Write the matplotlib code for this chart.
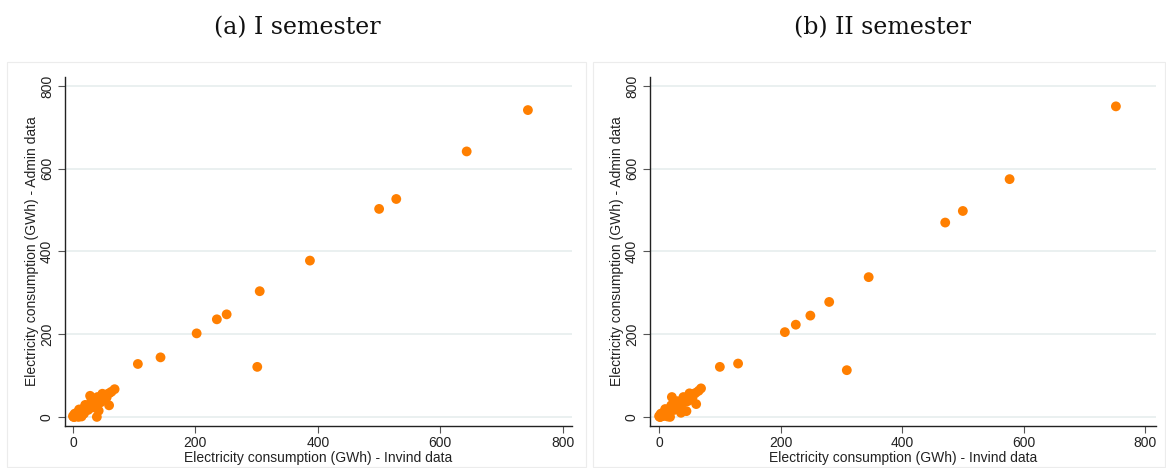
import matplotlib.pyplot as plt
from matplotlib.patches import Rectangle

# (a) I semester: Invind data (x) vs Admin data (y), GWh
sem1_invind = [743, 643, 500, 528, 387, 305, 251, 235, 202, 301, 143, 106, 68,
               28, 59, 42, 39,
               0, 1, 2, 3, 4, 5, 6, 8, 10, 12, 13, 15, 17, 19, 21, 23, 25, 27,
               29, 31, 33, 35, 37, 39, 41, 43, 45, 47, 49, 51, 53, 56, 60, 63,
               3, 7, 11, 16, 2, 14, 20, 9,
               20, 25, 33, 40, 45, 50, 10, 30, 55, 48, 36, 18]
sem1_admin = [742, 642, 503, 527, 378, 304, 248, 236, 202, 121, 144, 128, 67,
              51, 28, 15, 0,
              2, 0, 5, 1, 3, 6, 2, 4, 7, 9, 11, 12, 15, 18, 20, 22, 24, 27,
              28, 30, 32, 34, 36, 38, 40, 42, 44, 46, 48, 50, 52, 55, 58, 61,
              8, 10, 3, 19, 0, 1, 25, 0,
              29, 17, 23, 48, 35, 41, 18, 39, 47, 56, 27, 8]

# (b) II semester
sem2_invind = [752, 577, 471, 500, 345, 280, 249, 225, 207, 309, 130, 100, 69,
               21, 61, 45, 36,
               0, 1, 2, 3, 4, 5, 6, 8, 10, 12, 13, 15, 17, 19, 21, 23, 25, 27,
               29, 31, 33, 35, 37, 39, 41, 43, 45, 47, 49, 51, 53, 56, 60, 65,
               3, 7, 11, 16, 2, 14, 18, 40,
               20, 25, 33, 42, 47, 52, 10, 30, 55, 50, 36, 17]
sem2_admin = [751, 575, 470, 498, 338, 278, 245, 223, 205, 113, 129, 121, 69,
              48, 31, 14, 10,
              2, 0, 5, 1, 3, 6, 2, 4, 7, 9, 11, 12, 15, 18, 20, 22, 24, 27,
              28, 30, 32, 34, 36, 38, 40, 42, 44, 46, 48, 50, 52, 55, 58, 63,
              8, 10, 3, 19, 0, 1, 0, 48,
              28, 17, 24, 36, 38, 42, 19, 38, 47, 57, 27, 7]

titles = ["(a) I semester", "(b) II semester"]
ticks = [0, 200, 400, 600, 800]

ORANGE = "#ff7f00"
GRID = "#e6eeee"
SPINE = "#222222"

W, H = 1166, 468
fig = plt.figure(figsize=(W / 100, H / 100), dpi=100)
fig.patch.set_facecolor("white")
plt.rcParams["font.family"] = ["Liberation Sans", "DejaVu Sans"]


def px(x0, y0, x1, y1):
    """Pixel box (top-left origin) to figure fraction rect."""
    return [x0 / W, 1 - y1 / H, (x1 - x0) / W, (y1 - y0) / H]


panels = [
    dict(frame=(7, 62, 586, 467), ax=(65, 77, 572, 426), xlim=(-13, 815),
         title_x=297, data=(sem1_invind, sem1_admin)),
    dict(frame=(593, 62, 1165, 467), ax=(650, 77, 1156, 426), xlim=(-15, 818),
         title_x=883, data=(sem2_invind, sem2_admin)),
]

for p, title in zip(panels, titles):
    fx0, fy0, fx1, fy1 = p["frame"]
    fig.add_artist(Rectangle((fx0 / W, 1 - fy1 / H), (fx1 - fx0) / W, (fy1 - fy0) / H,
                             transform=fig.transFigure, facecolor="none",
                             edgecolor="#ececec", linewidth=0.8, zorder=5))
    fig.text(p["title_x"] / W, 1 - 28 / H, title, ha="center", va="center",
             fontsize=17, family=["DejaVu Serif"], color="#111111")

    ax = fig.add_axes(px(*p["ax"]))
    ax.patch.set_alpha(0)
    x, y = p["data"]
    ax.scatter(x, y, s=50, color=ORANGE, edgecolors="none", zorder=3)
    ax.set_xlim(*p["xlim"])
    ax.set_ylim(-22, 822)
    ax.set_xticks(ticks)
    ax.set_yticks(ticks)
    ax.yaxis.grid(True, color=GRID, linewidth=1.2)
    ax.set_axisbelow(True)
    for side in ("top", "right"):
        ax.spines[side].set_visible(False)
    for side in ("left", "bottom"):
        ax.spines[side].set_color(SPINE)
        ax.spines[side].set_linewidth(1.0)
    ax.tick_params(direction="out", length=5, width=0.8, color="#555555",
                   labelsize=10, labelcolor="#222222", pad=2)
    ax.tick_params(axis="y", pad=3)
    for lab in ax.get_yticklabels():
        lab.set_rotation(90)
        lab.set_va("center")
    ax.set_xlabel("Electricity consumption (GWh) - Invind data", fontsize=10,
                  color="#222222", labelpad=1)
    ax.set_ylabel("Electricity consumption (GWh) - Admin data", fontsize=10,
                  color="#222222", labelpad=0.5)

fig.savefig("out.png", dpi=100, facecolor="white")
